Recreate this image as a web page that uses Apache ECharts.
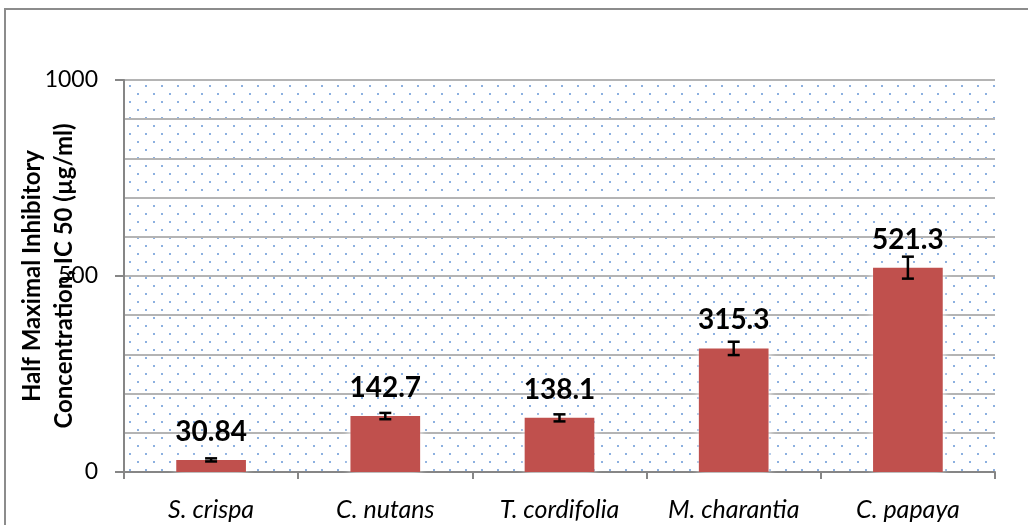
<!DOCTYPE html>
<html>
<head>
<meta charset="utf-8">
<script src="https://cdn.jsdelivr.net/npm/echarts@6/dist/echarts.min.js"></script>
<style>
    html, body { margin: 0; padding: 0; background: #fff; }
    #chart { width: 1028px; height: 525px; }
</style>
</head>
<body>
<div id="chart"></div>
<script>
// 数据
var categories = ['S. crispa', 'C. nutans', 'T. cordifolia', 'M. charantia', 'C. papaya'];
var ic50Values = [30.84, 142.7, 138.1, 315.3, 521.3];
var ic50Errors = [4, 8, 9, 17, 28];
var yTickLabels = ['0', '500', '1000'];

// 点状背景
function makeDots() {
    var c = document.createElement('canvas');
    c.width = 16;
    c.height = 16;
    var ctx = c.getContext('2d');
    ctx.fillStyle = '#8cb0e0';
    ctx.fillRect(1, 5, 2, 2);
    ctx.fillRect(9, 13, 2, 2);
    return c;
}

var myChart = echarts.init(document.getElementById('chart'));
var gridStyle = { color: '#b4b4b4', width: 2 };

var option = {
    backgroundColor: '#ffffff',
    animation: false,
    textStyle: { fontFamily: 'Lato', color: '#000' },
    graphic: [{
        type: 'rect',
        shape: { x: 5, y: 9, width: 1100, height: 600 },
        style: { fill: 'none', stroke: '#8c8c8c', lineWidth: 2 },
        silent: true
    }],
    grid: {
        left: 124,
        right: 33,
        top: 80,
        bottom: 53,
        containLabel: false,
        outerBoundsMode: 'none',
        show: true,
        borderWidth: 0,
        backgroundColor: { image: makeDots(), repeat: 'repeat' }
    },
    xAxis: {
        type: 'category',
        data: categories,
        axisLine: { lineStyle: { color: '#868686', width: 2 } },
        axisTick: { show: true, length: 7, lineStyle: { color: '#868686', width: 2 } },
        axisLabel: {
            margin: 25,
            fontSize: 25,
            fontStyle: 'italic',
            fontFamily: 'Lato',
            color: '#000'
        }
    },
    yAxis: {
        type: 'value',
        min: 0,
        max: 1000,
        interval: 500,
        name: 'Half Maximal Inhibitory\nConcentration, IC 50 (µg/ml)',
        nameLocation: 'middle',
        nameGap: 44,
        nameMoveOverlap: false,
        nameTextStyle: {
            fontSize: 24,
            fontWeight: 'bold',
            fontFamily: 'Lato',
            color: '#000',
            lineHeight: 32
        },
        axisLine: { show: true, lineStyle: { color: '#868686', width: 2 } },
        axisTick: { show: true, length: 9, lineStyle: { color: '#868686', width: 2 } },
        axisLabel: {
            margin: 26,
            fontSize: 23,
            fontFamily: 'Lato',
            color: '#000',
            formatter: function (v) {
                var s = String(v);
                return yTickLabels.indexOf(s) >= 0 ? s : '';
            }
        },
        splitLine: { show: true, lineStyle: gridStyle },
        minorTick: { show: false, splitNumber: 5 },
        minorSplitLine: { show: true, lineStyle: gridStyle }
    },
    series: [
        {
            type: 'bar',
            data: ic50Values,
            barWidth: '40%',
            z: 3,
            itemStyle: {
                color: '#c0504d',
                shadowColor: 'rgba(255,255,255,1)',
                shadowBlur: 8
            },
            label: {
                show: true,
                position: 'top',
                distance: 14,
                fontSize: 28,
                fontWeight: 'bold',
                fontFamily: 'Lato',
                color: '#000'
            }
        },
        {
            // 误差线
            type: 'custom',
            z: 5,
            data: ic50Values.map(function (v, i) { return [i, v, ic50Errors[i]]; }),
            renderItem: function (params, api) {
                var x = api.value(0);
                var v = api.value(1);
                var e = api.value(2);
                var hi = api.coord([x, v + e]);
                var lo = api.coord([x, v - e]);
                var cap = 6;
                var st = { stroke: '#000', lineWidth: 2.5 };
                return {
                    type: 'group',
                    children: [
                        { type: 'line', shape: { x1: hi[0], y1: hi[1], x2: lo[0], y2: lo[1] }, style: st },
                        { type: 'line', shape: { x1: hi[0] - cap, y1: hi[1], x2: hi[0] + cap, y2: hi[1] }, style: st },
                        { type: 'line', shape: { x1: lo[0] - cap, y1: lo[1], x2: lo[0] + cap, y2: lo[1] }, style: st }
                    ]
                };
            }
        }
    ]
};
myChart.setOption(option);
</script>
</body>
</html>
